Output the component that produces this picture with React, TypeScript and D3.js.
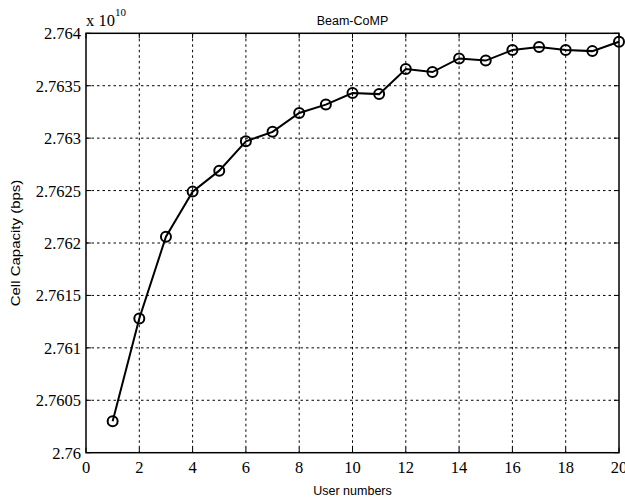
import React from "react";
import * as d3 from "d3";

const users = [1, 2, 3, 4, 5, 6, 7, 8, 9, 10, 11, 12, 13, 14, 15, 16, 17, 18, 19, 20];
const capacity = [
  2.7603, 2.76128, 2.76206, 2.76249, 2.76269, 2.76297, 2.76306, 2.76324, 2.76332, 2.76343,
  2.76342, 2.76366, 2.76363, 2.76376, 2.76374, 2.76384, 2.76387, 2.76384, 2.76383, 2.76392,
];
const xTicks = [0, 2, 4, 6, 8, 10, 12, 14, 16, 18, 20];
const yTicks = [2.76, 2.7605, 2.761, 2.7615, 2.762, 2.7625, 2.763, 2.7635, 2.764];
const yTickLabels = ["2.76", "2.7605", "2.761", "2.7615", "2.762", "2.7625", "2.763", "2.7635", "2.764"];

const W = 625, H = 500;
const left = 86, right = 619, top = 33.3, bottom = 452.7;
const serif = "'Liberation Serif', 'Times New Roman', serif";
const sans = "'Liberation Sans', Arial, sans-serif";

export default function App() {
  const x = d3.scaleLinear().domain([0, 20]).range([left, right]);
  const y = d3.scaleLinear().domain([2.76, 2.764]).range([bottom, top]);
  const line = d3.line<number>().x((_, i) => x(users[i])).y((d) => y(d));

  return (
    <svg width={W} height={H} style={{ position: "absolute", left: 0, top: 0, background: "#fff" }}>
      <rect x={0} y={0} width={W} height={H} fill="#fff" />
      {/* grid */}
      {xTicks.slice(1, -1).map((t) => (
        <line key={"gx" + t} x1={x(t)} x2={x(t)} y1={top} y2={bottom} stroke="#000" strokeWidth={1} strokeDasharray="2.5,3" />
      ))}
      {yTicks.slice(1, -1).map((t) => (
        <line key={"gy" + t} x1={left} x2={right} y1={y(t)} y2={y(t)} stroke="#000" strokeWidth={1} strokeDasharray="2.5,3" />
      ))}
      {/* ticks */}
      {xTicks.map((t) => (
        <g key={"tx" + t}>
          <line x1={x(t)} x2={x(t)} y1={bottom} y2={bottom - 5} stroke="#000" />
          <line x1={x(t)} x2={x(t)} y1={top} y2={top + 5} stroke="#000" />
          <text x={x(t)} y={bottom + 20} fontFamily={serif} fontSize={16.5} textAnchor="middle">{t}</text>
        </g>
      ))}
      {yTicks.map((t, i) => (
        <g key={"ty" + t}>
          <line x1={left} x2={left + 5} y1={y(t)} y2={y(t)} stroke="#000" />
          <line x1={right} x2={right - 5} y1={y(t)} y2={y(t)} stroke="#000" />
          <text x={left - 5} y={y(t) + 6} fontFamily={serif} fontSize={16.5} textAnchor="end">{yTickLabels[i]}</text>
        </g>
      ))}
      <rect x={left} y={top} width={right - left} height={bottom - top} fill="none" stroke="#000" strokeWidth={1.5} />
      {/* data */}
      <path d={line(capacity) || ""} fill="none" stroke="#000" strokeWidth={2} />
      {capacity.map((v, i) => (
        <circle key={"p" + i} cx={x(users[i])} cy={y(v)} r={5} fill="none" stroke="#000" strokeWidth={2} />
      ))}
      {/* labels */}
      <text x={86} y={26} fontFamily={serif} fontSize={16.5}>
        x 10<tspan dy={-10} fontSize={11}>10</tspan>
      </text>
      <text x={(left + right) / 2} y={25} fontFamily={sans} fontSize={12.5} textAnchor="middle">Beam-CoMP</text>
      <text x={(left + right) / 2} y={495} fontFamily={sans} fontSize={12.5} textAnchor="middle">User numbers</text>
      <text transform={`translate(20, ${(top + bottom) / 2}) rotate(-90) scale(1.2, 1)`} fontFamily={sans} fontSize={12.5} textAnchor="middle">Cell Capacity (bps)</text>
    </svg>
  );
}
